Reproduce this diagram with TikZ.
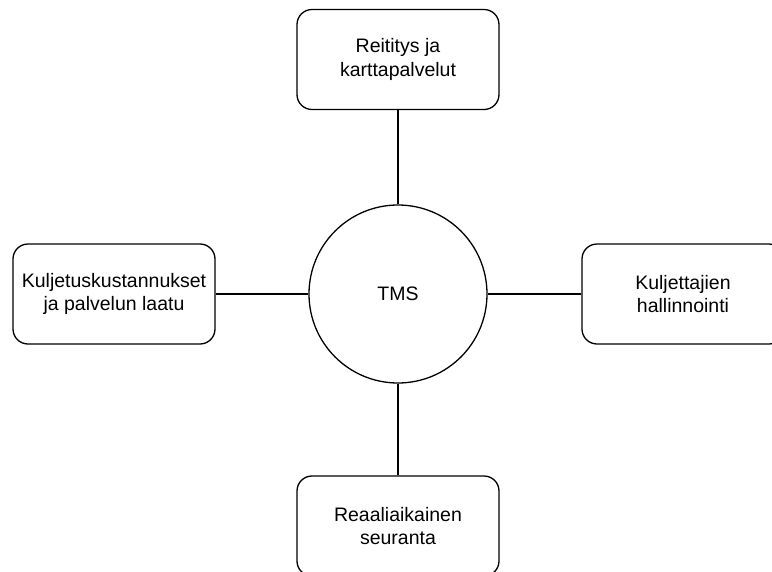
\documentclass[tikz,border=0pt]{standalone}
\usepackage{fontspec}
\setmainfont{Liberation Sans}
\begin{document}
\begin{tikzpicture}[x=1pt,y=-1pt,
  box/.style={draw=black, line width=1.3pt, rounded corners=15pt, minimum width=202pt, minimum height=100pt, align=center, font=\fontsize{19.5}{23.5}\selectfont, inner sep=0pt},
  hub/.style={draw=black, line width=1.3pt, circle, minimum size=178pt, inner sep=0pt, font=\fontsize{19.5}{23.5}\selectfont},
  link/.style={draw=black, line width=1.3pt}]
\useasboundingbox (0,0) rectangle (772,571);
\node[hub] (tms) at (398,294) {TMS};
\node[box] (top) at (398,59.5) {Reititys ja\\karttapalvelut};
\node[box] (left) at (114,294) {Kuljetuskustannukset\\ja palvelun laatu};
\node[box] (right) at (683,294) {Kuljettajien\\hallinnointi};
\node[box] (bottom) at (398,526) {Reaaliaikainen\\seuranta};
\draw[link] (top) -- (tms);
\draw[link] (left) -- (tms);
\draw[link] (right) -- (tms);
\draw[link] (bottom) -- (tms);
\end{tikzpicture}
\end{document}
